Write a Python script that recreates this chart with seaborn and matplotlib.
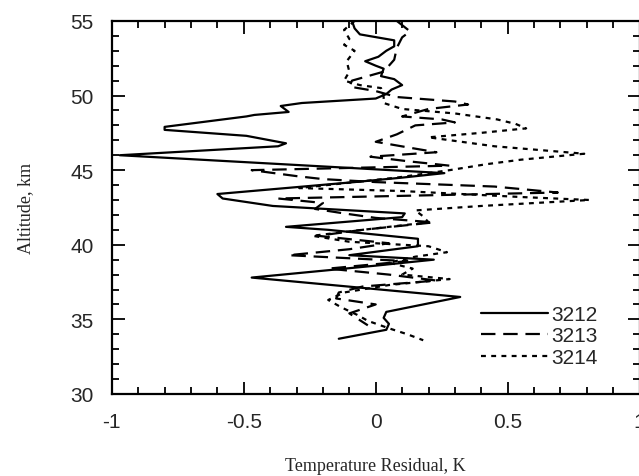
import numpy as np
import pandas as pd
import seaborn as sns
import matplotlib.pyplot as plt
from matplotlib.ticker import MultipleLocator

# --- dati (altitudine km, residuo K) ---
alt_3212 = [55.0, 54.5, 54.1, 53.7, 53.3, 53.0, 52.6, 52.3, 52.0, 51.8, 51.3, 51.1,
            50.7, 50.4, 50.1, 49.8, 49.5, 49.3, 48.9, 48.7, 48.6, 47.9, 47.7, 47.3,
            46.8, 46.6, 46.0, 44.8, 44.5, 44.2, 43.4, 43.1, 42.6, 42.1, 41.85, 41.2,
            41.0, 40.4, 39.9, 39.3, 39.0, 38.6, 37.8, 36.5, 35.5, 35.1, 34.7, 34.3, 33.7]
res_3212 = [-0.09, -0.08, -0.06, 0.07, 0.07, 0.04, 0.01, -0.04, 0.0, 0.03, 0.02, 0.07,
            0.10, 0.06, 0.04, 0.0, -0.28, -0.36, -0.33, -0.46, -0.49, -0.80, -0.80, -0.49,
            -0.34, -0.37, -0.97, 0.26, 0.10, -0.08, -0.60, -0.58, -0.39, 0.11, 0.10, -0.34,
            -0.18, 0.16, 0.16, -0.10, 0.22, 0.0, -0.47, 0.32, 0.04, 0.03, 0.05, 0.04, -0.14]

alt_3213 = [55.0, 54.3, 53.9, 53.2, 52.4, 51.6, 51.0, 50.6, 50.3, 49.9, 49.6, 49.4,
            49.1, 48.6, 48.4, 48.2, 48.0, 47.4, 46.9, 46.5, 46.2, 45.9, 45.6, 45.3,
            45.0, 44.6, 44.4, 44.2, 43.9, 43.5, 43.1, 42.8, 42.4, 42.1, 41.8, 41.5,
            41.0, 40.6, 40.1, 39.7, 39.3, 38.9, 38.4, 38.0, 37.6, 37.2, 36.8, 36.4,
            36.0, 35.4, 34.6]
res_3213 = [0.08, 0.13, 0.10, 0.08, 0.07, 0.03, -0.09, -0.10, 0.0, 0.08, 0.30, 0.35,
            0.20, 0.10, 0.25, 0.30, 0.15, 0.08, 0.0, 0.13, 0.23, -0.02, 0.12, 0.28,
            -0.47, -0.30, -0.20, 0.00, 0.45, 0.69, -0.37, -0.20, -0.23, -0.12, 0.00, 0.22,
            -0.05, -0.22, 0.05, -0.10, -0.33, 0.12, -0.18, 0.05, 0.23, -0.05, -0.14, -0.15,
            0.0, -0.10, -0.03]

alt_3214 = [55.0, 54.4, 53.8, 53.4, 53.0, 52.3, 51.6, 51.0, 50.7, 50.5, 49.9, 49.5,
            49.1, 48.8, 48.4, 48.1, 47.8, 47.5, 47.2, 46.6, 46.1, 45.7, 45.4, 45.0,
            44.5, 43.8, 43.6, 43.2, 43.0, 42.6, 42.3, 41.9, 41.5, 41.0, 40.6, 40.2,
            39.9, 39.5, 39.2, 38.8, 38.4, 38.0, 37.7, 37.3, 36.8, 36.3, 35.8, 35.3,
            34.9, 34.4, 34.0, 33.6]
res_3214 = [-0.08, -0.12, -0.10, -0.12, -0.08, -0.11, -0.10, -0.12, -0.06, 0.02, 0.03, 0.03,
            0.10, 0.30, 0.46, 0.53, 0.57, 0.40, 0.20, 0.45, 0.79, 0.55, 0.42, 0.28,
            0.08, -0.29, 0.10, 0.55, 0.81, 0.40, 0.15, 0.18, 0.20, -0.05, -0.24, -0.10,
            0.20, 0.27, 0.15, 0.05, 0.14, 0.10, 0.28, 0.05, -0.12, -0.18, -0.13, -0.07,
            -0.03, 0.05, 0.12, 0.18]

serie = ['3212', '3213', '3214']

# --- tabella lunga per seaborn ---
df = pd.concat([
    pd.DataFrame({'Residual': res_3212, 'Altitude': alt_3212, 'Run': '3212'}),
    pd.DataFrame({'Residual': res_3213, 'Altitude': alt_3213, 'Run': '3213'}),
    pd.DataFrame({'Residual': res_3214, 'Altitude': alt_3214, 'Run': '3214'}),
], ignore_index=True)

sns.set_style('ticks')

fig = plt.figure(figsize=(6.39, 4.77), dpi=100)
ax = fig.add_axes([0.175, 0.172, 0.826, 0.782])

sns.lineplot(data=df, x='Residual', y='Altitude', style='Run', style_order=serie,
             dashes={'3212': '', '3213': (6.5, 3.5), '3214': (2.2, 2.4)},
             color='black', linewidth=1.6, sort=False, estimator=None,
             legend=False, ax=ax)

ax.set_xlim(-1, 1)
ax.set_ylim(30, 55)
ax.xaxis.set_major_locator(MultipleLocator(0.5))
ax.xaxis.set_minor_locator(MultipleLocator(0.1))
ax.yaxis.set_major_locator(MultipleLocator(5))
ax.yaxis.set_minor_locator(MultipleLocator(1))
ax.set_xticks([-1, -0.5, 0, 0.5, 1])
ax.set_xticklabels(['-1', '-0.5', '0', '0.5', '1'])

ax.tick_params(which='both', direction='in', top=True, right=True, color='black', width=1.3)
ax.tick_params(which='major', length=9, labelsize=15, pad=13)
ax.tick_params(which='minor', length=5)
for lab in ax.get_xticklabels() + ax.get_yticklabels():
    lab.set_family('Liberation Sans')
for sp in ax.spines.values():
    sp.set_color('black')
    sp.set_linewidth(1.6)

ax.set_xlabel('Temperature Residual, K', family='Liberation Serif', fontsize=13, labelpad=19)
ax.set_ylabel('Altitude, km', family='Liberation Serif', fontsize=13, labelpad=26)

ax.legend(handles=ax.lines[:3], labels=serie, loc='lower right',
          bbox_to_anchor=(0.936, 0.05), frameon=False, handlelength=3.2,
          handletextpad=0.15, labelspacing=0.12, borderaxespad=0,
          prop={'family': 'Liberation Sans', 'size': 15})

plt.savefig('out.png', dpi=100)
plt.close(fig)
